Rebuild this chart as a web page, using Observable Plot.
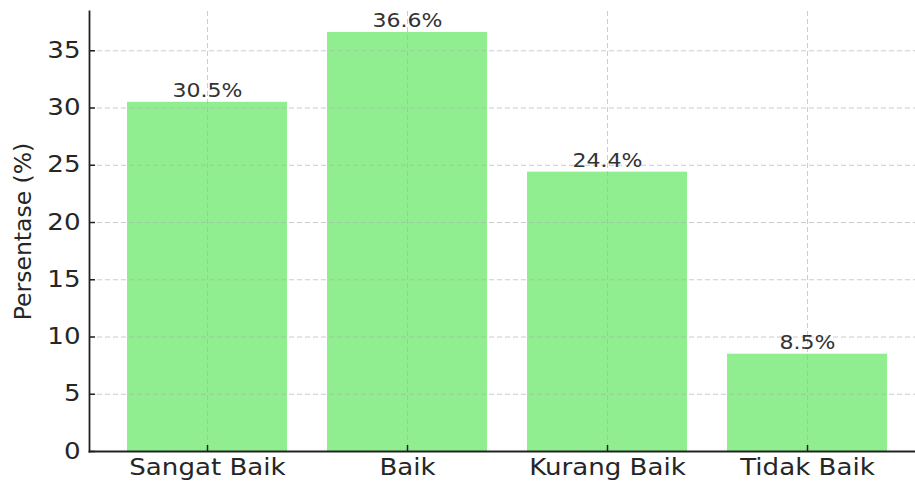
<!DOCTYPE html>
<html>
<head>
<meta charset="utf-8">
<script src="https://cdn.jsdelivr.net/npm/d3@7"></script>
<script src="https://cdn.jsdelivr.net/npm/@observablehq/plot@0.6"></script>
<style>
  html, body { margin: 0; padding: 0; background: #fff; }
  svg { display: block; }
</style>
</head>
<body>
<div id="chart"></div>
<script>
const categories = ["Sangat Baik", "Baik", "Kurang Baik", "Tidak Baik"];
const values = [30.5, 36.6, 24.4, 8.5];
const yTicks = [0, 5, 10, 15, 20, 25, 30, 35];
const yLabel = "Persentase (%)";

const data = categories.map((c, i) => ({cat: c, val: values[i]}));
const font = "DejaVu Sans, sans-serif";
const stretch = 1.16;

const chart = Plot.plot({
  width: 915,
  height: 484,
  marginLeft: 89,
  marginRight: -10,
  marginTop: 11,
  marginBottom: 33,
  style: {fontFamily: font, background: "#fff", overflow: "visible"},
  x: {domain: categories, type: "band", paddingInner: 0.2, paddingOuter: 0.19},
  y: {domain: [0, 38.43]},
  marks: [
    Plot.barY(data, {x: "cat", y: "val", fill: "#90EE90"}),
    Plot.gridY(yTicks, {stroke: "#b0b0b0", strokeOpacity: 0.65, strokeWidth: 1, strokeDasharray: "5,3"}),
    Plot.gridX(categories, {stroke: "#b0b0b0", strokeOpacity: 0.65, strokeWidth: 1, strokeDasharray: "5,3"}),
    Plot.text(data, {x: "cat", y: "val", text: d => d.val.toFixed(1) + "%", lineAnchor: "bottom", dy: -5, fontSize: 19, fill: "#333", fontFamily: font}),
    Plot.frame({anchor: "left", stroke: "#222", strokeWidth: 1.8}),
    Plot.frame({anchor: "bottom", stroke: "#222", strokeWidth: 1.8}),
    Plot.axisY(yTicks, {tickSize: -6, text: null, stroke: "#222", strokeWidth: 1.5, label: null}),
    Plot.axisY(yTicks, {tickSize: 0, tickPadding: 9, fontSize: 22.5, fill: "#262626", label: null}),
    Plot.axisX(categories, {tickSize: -6, text: null, stroke: "#222", strokeWidth: 1.5, label: null}),
    Plot.axisX(categories, {tickSize: 0, tickPadding: 8, fontSize: 22.5, fill: "#262626", label: null}),
    Plot.text([yLabel], {frameAnchor: "left", textAnchor: "middle", rotate: -90, dx: -66.5, fontSize: 23.5, fill: "#262626", fontFamily: font})
  ]
});

// mimic the horizontally stretched rendering of the reference text
d3.select(chart).selectAll("text")
  .each(function() {
    const t = this.getAttribute("transform");
    if (t && !t.includes("rotate")) this.setAttribute("transform", t + ` scale(${stretch},1)`);
  });

document.getElementById("chart").appendChild(chart);
</script>
</body>
</html>
